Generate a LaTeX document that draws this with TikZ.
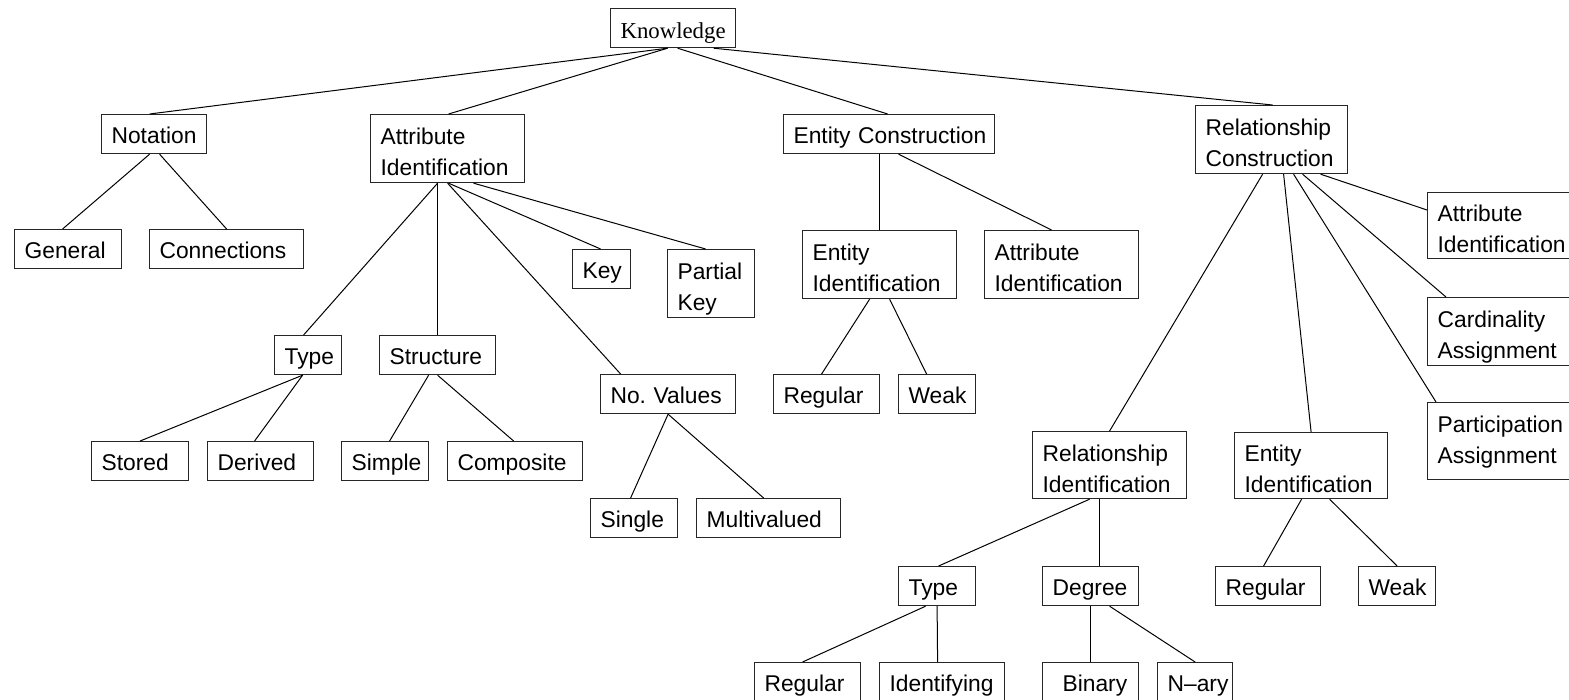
\documentclass[tikz,border=0pt]{standalone}
\usepackage{fontspec}
\setmainfont{Liberation Sans}
\newfontfamily\seriffont{Liberation Serif}
\usetikzlibrary{calc}

\begin{document}
\begin{tikzpicture}[
  x=0.5pt, y=-0.5pt,
  box/.style={draw=black!85, line width=0.6pt, anchor=north west, align=left,
    inner xsep=5pt, inner ysep=0pt, font=\fontsize{11.4}{15.5}\selectfont},
  one/.style={box, minimum height=19.5pt, text height=9.8pt, text depth=0pt},
  two/.style={box, minimum height=34pt, text height=11.7pt, text depth=15.5pt},
  link/.style={line width=0.5pt}
]
  \path[use as bounding box] (0,0) rectangle (1569,700);
  \clip (0,0) rectangle (1569,700);

  \node[draw=black!85, line width=0.6pt, anchor=north west, minimum width=62.5pt,
    minimum height=19.5pt, inner sep=0pt, text height=10.5pt, text depth=0pt,
    font=\seriffont\fontsize{11.4}{15.5}\selectfont] (know) at (610,8) {Knowledge};

  % first level
  \node[one, text width=42.5pt] (nota) at (101,114) {Notation};
  \node[two, text width=67pt] (attr) at (370,114) {Attribute\\Identification};
  \node[one, text width=95.5pt] (ec) at (783,114) {\mbox{Entity Construction}};
  \node[two, text width=66pt] (rc) at (1195,105) {Relationship\\Construction};

  % notation
  \node[one, text width=43.5pt] (gen) at (14,229) {General};
  \node[one, text width=67pt] (conn) at (149,229) {Connections};

  % attribute identification
  \node[one, text width=23.5pt] (type) at (274,335) {Type};
  \node[one, text width=48pt] (struct) at (379,335) {Structure};
  \node[one, text width=19pt] (key) at (572,249) {Key};
  \node[two, text width=33.5pt] (pkey) at (667,249) {Partial\\Key};
  \node[one, text width=57.5pt] (nval) at (600,374) {No.\ Values};
  \node[one, text width=38.5pt] (stored) at (91,441) {Stored};
  \node[one, text width=43pt] (derived) at (207,441) {Derived};
  \node[one, text width=33.5pt] (simple) at (341,441) {Simple};
  \node[one, text width=57.5pt] (comp) at (447,441) {Composite};
  \node[one, text width=33.5pt] (single) at (590,498) {Single};
  \node[one, text width=62pt] (multi) at (696,498) {Multivalued};

  % entity construction
  \node[two, text width=67pt] (eiec) at (802,230) {Entity\\Identification};
  \node[two, text width=67pt] (aiec) at (984,230) {Attribute\\Identification};
  \node[one, text width=43pt] (regec) at (773,374) {Regular};
  \node[one, text width=28.5pt] (weakec) at (898,374) {Weak};

  % relationship construction
  \node[two, text width=67pt, minimum height=33pt] (airc) at (1427,192) {Attribute\\Identification};
  \node[two, text width=67pt] (card) at (1427,297) {Cardinality\\Assignment};
  \node[two, text width=67pt, minimum height=38.5pt, text depth=20pt] (part) at (1427,402) {Participation\\Assignment};
  \node[two, text width=67pt, minimum height=33.5pt] (ri) at (1032,431) {Relationship\\Identification};
  \node[two, text width=66.5pt, minimum height=33pt] (eirc) at (1234,432) {Entity\\Identification};
  \node[one, text width=28.5pt] (typer) at (898,566) {Type};
  \node[one, text width=38pt] (deg) at (1042,566) {Degree};
  \node[one, text width=42.5pt] (regrc) at (1215,566) {Regular};
  \node[one, text width=28.5pt] (weakrc) at (1358,566) {Weak};
  \node[one, text width=43pt] (regri) at (754,662) {Regular};
  \node[one, text width=52.5pt] (ident) at (879,662) {Identifying};
  \node[one, text width=38pt] (bin) at (1042,662) {\hspace{5pt}Binary};
  \node[one, text width=27.5pt] (nary) at (1157,662) {\mbox{N–ary}};

  \draw[link] ($(know.south)+(-5.5,0)$) -- ($(nota.north)+(-4.5,0)$);
  \draw[link] ($(know.south)+(-5.5,0)$) -- ($(attr.north)+(1,0)$);
  \draw[link] ($(know.south)+(4.5,0)$) -- ($(ec.north)+(-1.5,0)$);
  \draw[link] ($(know.south)+(40.5,0)$) -- ($(rc.north)+(1,0)$);

  \draw[link] ($(nota.south)+(-4.5,0)$) -- ($(gen.north)+(-5.5,0)$);
  \draw[link] ($(nota.south)+(5.5,0)$) -- (conn.north);

  \draw[link] ($(attr.south)+(-10,0)$) -- ($(type.north)+(-4.5,0)$);
  \draw[link] ($(attr.south)+(-10,0)$) -- (struct.north);
  \draw[link] (attr.south) -- ($(nval.north)+(-47.5,0)$);
  \draw[link] ($(attr.south)+(1,0)$) -- ($(key.north)+(-1,0)$);
  \draw[link] ($(attr.south)+(26,0)$) -- ($(pkey.north)+(-5.5,0)$);
  \draw[link] ($(type.south)+(-5.5,0)$) -- (stored.north);
  \draw[link] ($(type.south)+(-5.5,0)$) -- ($(derived.north)+(-6,0)$);
  \draw[link] ($(struct.south)+(-9,0)$) -- ($(simple.north)+(4.5,0)$);
  \draw[link] (struct.south) -- ($(comp.north)+(-1.5,0)$);
  \draw[link] (nval.south) -- ($(single.north)+(-3.5,0)$);
  \draw[link] (nval.south) -- ($(multi.north)+(-5,0)$);

  \draw[link] ($(ec.south)+(-9.5,0)$) -- (eiec.north);
  \draw[link] ($(ec.south)+(9.5,0)$) -- ($(aiec.north)+(-10,0)$);
  \draw[link] ($(eiec.south)+(-10,0)$) -- ($(regec.north)+(-5,0)$);
  \draw[link] ($(eiec.south)+(10,0)$) -- ($(weakec.north)+(-10.5,0)$);

  \draw[link] ($(rc.south)+(-9,0)$) -- (ri.north);
  \draw[link] ($(rc.south)+(12,0)$) -- (eirc.north);
  \draw[link] ($(rc.south)+(22,0)$) -- ($(part.north west)+(9,0)$);
  \draw[link] ($(rc.south)+(31,0)$) -- ($(card.north west)+(19,0)$);
  \draw[link] ($(rc.south)+(49,0)$) -- ($(airc.north west)+(0,18)$);
  \draw[link] ($(ri.south)+(-20,0)$) -- ($(typer.north)+(1.5,0)$);
  \draw[link] ($(ri.south)+(-10,0)$) -- ($(deg.north)+(9,0)$);
  \draw[link] ($(eirc.south)+(-9.5,0)$) -- ($(regrc.north)+(-4.5,0)$);
  \draw[link] ($(eirc.south)+(18.5,0)$) -- (weakrc.north);
  \draw[link] ($(typer.south)+(-11.5,0)$) -- ($(regri.north)+(-5,0)$);
  \draw[link] (typer.south) -- ($(ident.north)+(-4.5,0)$);
  \draw[link] (deg.south) -- (bin.north);
  \draw[link] ($(deg.south)+(19,0)$) -- (nary.north);
\end{tikzpicture}
\end{document}
